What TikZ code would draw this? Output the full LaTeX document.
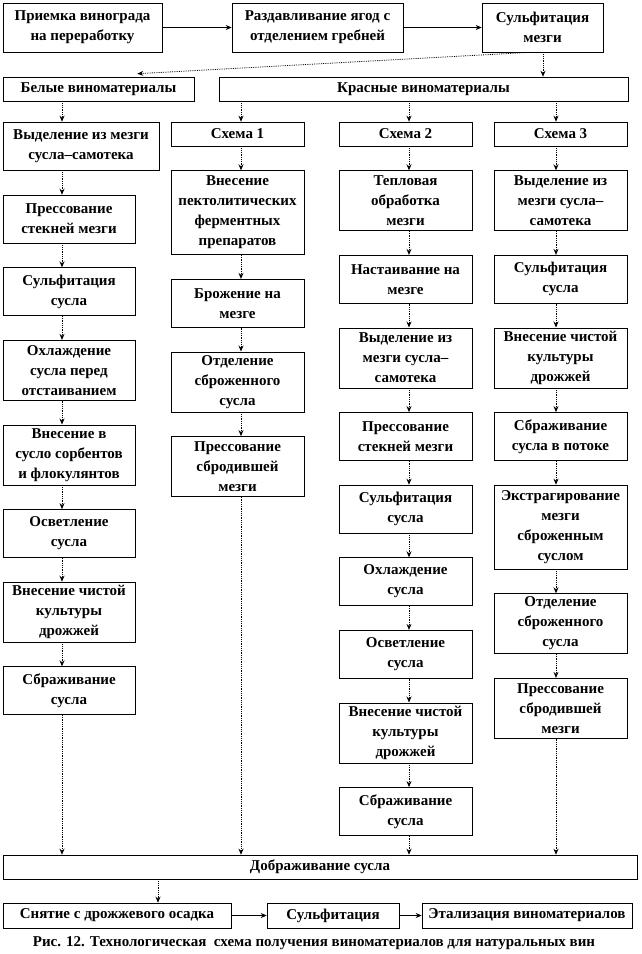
\documentclass[tikz,border=0pt]{standalone}
\usepackage{fontspec}
\setmainfont{Liberation Serif}
\usetikzlibrary{arrows.meta, positioning}
\tikzstyle{stepbox} = [rectangle, draw=black, line width=0.6pt, minimum width=133pt, minimum height=48pt, inner sep=2pt, align=center, font=\bfseries\fontsize{15}{20}\selectfont]
\tikzstyle{tallbox} = [stepbox, minimum height=60pt]
\tikzstyle{longbox} = [stepbox, minimum height=84pt]
\tikzstyle{headbox} = [stepbox, minimum height=24pt]
\tikzstyle{arrow} = [line width=0.6pt,-{Stealth[length=6pt,width=5pt]}]
\tikzstyle{flow} = [line width=0.8pt, densely dotted, -{Stealth[length=6pt,width=5pt]}]

\begin{document}
\begin{tikzpicture}[x=1pt, y=-1pt, node distance=24pt]
\useasboundingbox (0,0) rectangle (642,954);
% arrow columns
\coordinate (xw) at (62,0);
\coordinate (x1) at (241,0);
\coordinate (x2) at (409,0);
\coordinate (x3) at (556,0);

\node (recv) [stepbox, minimum width=159pt, minimum height=49pt] at (82.5,27.5) {Приемка винограда\\на переработку};
\node (crush) [stepbox, minimum width=171pt, minimum height=49pt] at (317.5,27.5) {Раздавливание ягод с\\отделением гребней};
\node (sulf) [stepbox, minimum width=121pt, minimum height=49pt] at (542.5,27.5) {Сульфитация\\мезги};

\node (white) [headbox, minimum width=191pt] at (98.5,89) {Белые виноматериалы};
\node (red) [headbox, minimum width=409pt] at (423.5,89) {Красные виноматериалы};

% white wines
\node (w1) [stepbox, minimum width=156pt] at (81,146) {Выделение из мезги\\сусла--самотека};
\node (w2) [stepbox, minimum width=132pt] at (69,219) {Прессование\\стекней мезги};
\node (w3) [stepbox, minimum width=132pt, below=of w2] {Сульфитация\\сусла};
\node (w4) [tallbox, minimum width=132pt, below=of w3] {Охлаждение\\сусла перед\\отстаиванием};
\node (w5) [tallbox, minimum width=132pt, below=of w4] {Внесение в\\сусло сорбентов\\и флокулянтов};
\node (w6) [stepbox, minimum width=132pt, below=of w5] {Осветление\\сусла};
\node (w7) [tallbox, minimum width=132pt, below=of w6] {Внесение чистой\\культуры\\дрожжей};
\node (w8) [stepbox, minimum width=132pt, below=of w7] {Сбраживание\\сусла};

% scheme 1
\node (s1) [headbox] at (237.5,134) {Схема 1};
\node (a1) [longbox, below=of s1] {Внесение\\пектолитических\\ферментных\\препаратов};
\node (a2) [stepbox, below=of a1] {Брожение на\\мезге};
\node (a3) [tallbox, below=of a2] {Отделение\\сброженного\\сусла};
\node (a4) [tallbox, below=of a3] {Прессование\\сбродившей\\мезги};

% scheme 2
\node (s2) [headbox] at (405.5,134) {Схема 2};
\node (b1) [tallbox, below=of s2] {Тепловая\\обработка\\мезги};
\node (b2) [stepbox, below=of b1] {Настаивание на\\мезге};
\node (b3) [tallbox, below=of b2] {Выделение из\\мезги сусла--\\самотека};
\node (b4) [stepbox, below=of b3] {Прессование\\стекней мезги};
\node (b5) [stepbox, below=of b4] {Сульфитация\\сусла};
\node (b6) [stepbox, below=of b5] {Охлаждение\\сусла};
\node (b7) [stepbox, below=of b6] {Осветление\\сусла};
\node (b8) [tallbox, below=of b7] {Внесение чистой\\культуры\\дрожжей};
\node (b9) [stepbox, below=of b8] {Сбраживание\\сусла};

% scheme 3
\node (s3) [headbox] at (560.5,134) {Схема 3};
\node (c1) [tallbox, below=of s3] {Выделение из\\мезги сусла--\\самотека};
\node (c2) [stepbox, below=of c1] {Сульфитация\\сусла};
\node (c3) [tallbox, below=of c2] {Внесение чистой\\культуры\\дрожжей};
\node (c4) [stepbox, below=of c3] {Сбраживание\\сусла в потоке};
\node (c5) [longbox, below=of c4] {Экстрагирование\\мезги\\сброженным\\суслом};
\node (c6) [tallbox, below=of c5] {Отделение\\сброженного\\сусла};
\node (c7) [tallbox, below=of c6] {Прессование\\сбродившей\\мезги};

\node (ferm) [headbox, minimum width=634pt] at (320,867) {Дображивание сусла};
\node (lees) [headbox, minimum width=228pt, minimum height=25pt] at (117,915.5) {Снятие с дрожжевого осадка};
\node (sulf2) [headbox, minimum width=132pt, minimum height=25pt] at (333,915.5) {Сульфитация};
\node (etal) [headbox, minimum width=210pt, minimum height=25pt] at (527,915.5) {Этализация виноматериалов};

\node (cap) [font=\bfseries\fontsize{15}{20}\selectfont] at (314,943) {Рис. 12. Технологическая\ \ схема получения виноматериалов для натуральных вин};

\draw [arrow] (recv) -- (crush);
\draw [arrow] (crush) -- (sulf);
\draw [flow] ([xshift=-12pt]sulf.south) -- ([xshift=-57pt,yshift=3pt]white.north east);
\draw [flow] (sulf.south -| 543,0) -- (red.north -| 543,0);

\draw [flow] (white.south -| xw) -- (w1.north -| xw);
\draw [flow] (red.south -| x1) -- (s1.north -| x1);
\draw [flow] (red.south -| x2) -- (s2.north -| x2);
\draw [flow] (red.south -| x3) -- (s3.north -| x3);

\draw [flow] (w1.south -| xw) -- (w2.north -| xw);
\draw [flow] (w2.south -| xw) -- (w3.north -| xw);
\draw [flow] (w3.south -| xw) -- (w4.north -| xw);
\draw [flow] (w4.south -| xw) -- (w5.north -| xw);
\draw [flow] (w5.south -| xw) -- (w6.north -| xw);
\draw [flow] (w6.south -| xw) -- (w7.north -| xw);
\draw [flow] (w7.south -| xw) -- (w8.north -| xw);
\draw [flow] (w8.south -| xw) -- (ferm.north -| xw);

\draw [flow] (s1.south -| x1) -- (a1.north -| x1);
\draw [flow] (a1.south -| x1) -- (a2.north -| x1);
\draw [flow] (a2.south -| x1) -- (a3.north -| x1);
\draw [flow] (a3.south -| x1) -- (a4.north -| x1);
\draw [flow] (a4.south -| x1) -- (ferm.north -| x1);

\draw [flow] (s2.south -| x2) -- (b1.north -| x2);
\draw [flow] (b1.south -| x2) -- (b2.north -| x2);
\draw [flow] (b2.south -| x2) -- (b3.north -| x2);
\draw [flow] (b3.south -| x2) -- (b4.north -| x2);
\draw [flow] (b4.south -| x2) -- (b5.north -| x2);
\draw [flow] (b5.south -| x2) -- (b6.north -| x2);
\draw [flow] (b6.south -| x2) -- (b7.north -| x2);
\draw [flow] (b7.south -| x2) -- (b8.north -| x2);
\draw [flow] (b8.south -| x2) -- (b9.north -| x2);
\draw [flow] (b9.south -| x2) -- (ferm.north -| x2);

\draw [flow] (s3.south -| x3) -- (c1.north -| x3);
\draw [flow] (c1.south -| x3) -- (c2.north -| x3);
\draw [flow] (c2.south -| x3) -- (c3.north -| x3);
\draw [flow] (c3.south -| x3) -- (c4.north -| x3);
\draw [flow] (c4.south -| x3) -- (c5.north -| x3);
\draw [flow] (c5.south -| x3) -- (c6.north -| x3);
\draw [flow] (c6.south -| x3) -- (c7.north -| x3);
\draw [flow] (c7.south -| x3) -- (ferm.north -| x3);

\draw [flow] (ferm.south -| 158,0) -- (lees.north -| 158,0);
\draw [arrow] (lees) -- (sulf2);
\draw [arrow] (sulf2) -- (etal);
\end{tikzpicture}
\end{document}
